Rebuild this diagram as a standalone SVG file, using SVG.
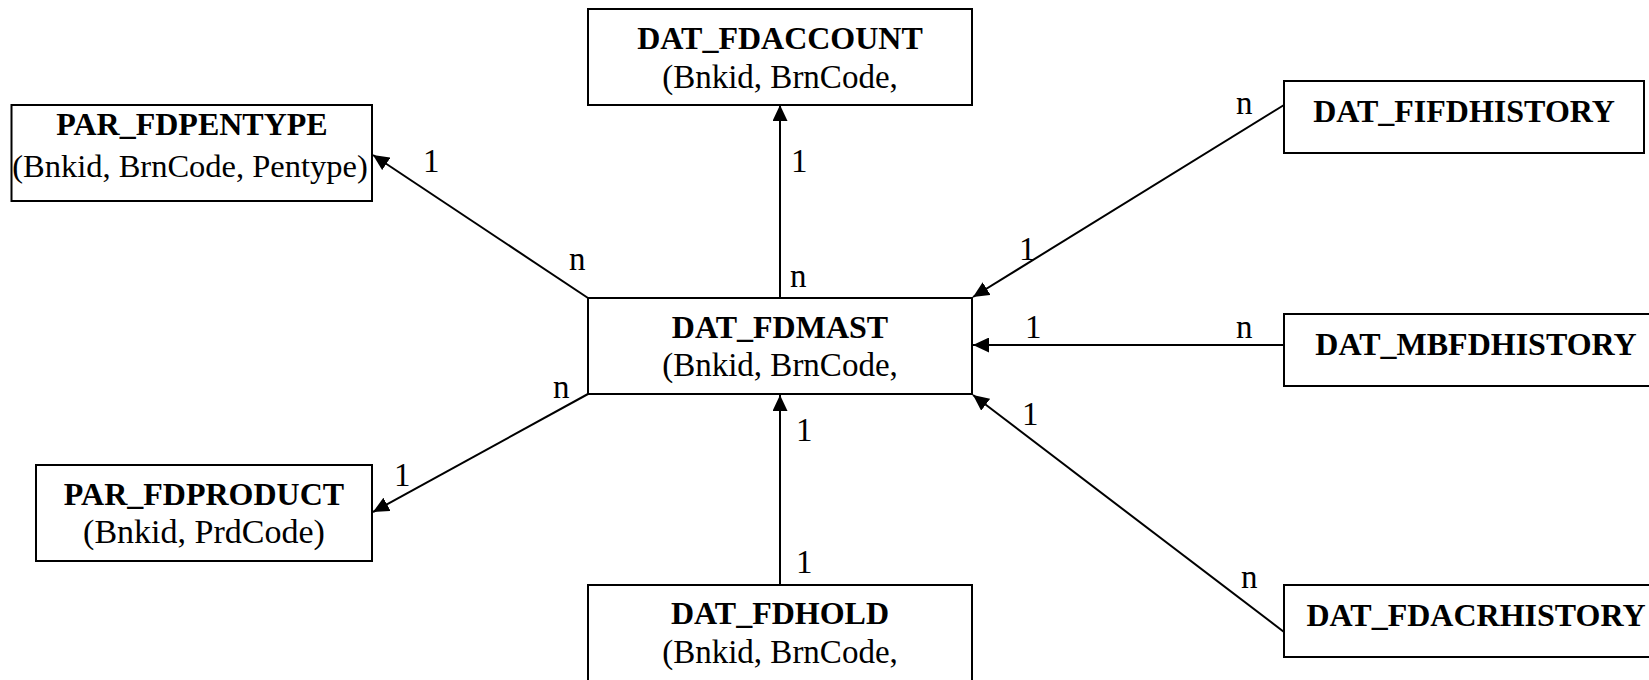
<svg xmlns="http://www.w3.org/2000/svg" width="1649" height="680" viewBox="0 0 1649 680">
<style>
.box{fill:#fff;stroke:#000;stroke-width:2}
.t{font-family:"Liberation Serif","Times New Roman",serif;fill:#000;text-anchor:middle}
.b{font-weight:bold;font-size:32px}
.r{font-size:33px}
.lbl{font-family:"Liberation Serif","Times New Roman",serif;font-size:33px;fill:#000}
.c{stroke:#000;stroke-width:2;fill:none;marker-end:url(#arr)}
</style>
<defs>
<marker id="arr" markerUnits="userSpaceOnUse" markerWidth="17" markerHeight="15" refX="16" refY="7.5" orient="auto">
<path d="M0,0 L16,7.5 L0,15 z" fill="#000"/>
</marker>
</defs>
<rect width="1649" height="680" fill="#fff"/>
<g id="connectors">
<line class="c" x1="588" y1="298" x2="373" y2="155"/>
<line class="c" x1="780" y1="298" x2="780" y2="105"/>
<line class="c" x1="1284" y1="105" x2="973" y2="297"/>
<line class="c" x1="1284" y1="345" x2="973" y2="345"/>
<line class="c" x1="588" y1="394" x2="373" y2="512"/>
<line class="c" x1="780" y1="585" x2="780" y2="395"/>
<line class="c" x1="1284" y1="632" x2="973" y2="395"/>
<text class="lbl" x="423" y="172">1</text>
<text class="lbl" x="569" y="270">n</text>
<text class="lbl" x="791" y="172">1</text>
<text class="lbl" x="790" y="287">n</text>
<text class="lbl" x="1236" y="114">n</text>
<text class="lbl" x="1019" y="260">1</text>
<text class="lbl" x="1025" y="338">1</text>
<text class="lbl" x="1236" y="338">n</text>
<text class="lbl" x="553" y="398">n</text>
<text class="lbl" x="394" y="486">1</text>
<text class="lbl" x="796" y="441">1</text>
<text class="lbl" x="796" y="573">1</text>
<text class="lbl" x="1022" y="425">1</text>
<text class="lbl" x="1241" y="588">n</text>
</g>
<g id="DAT_FDACCOUNT">
<rect class="box" x="588" y="9" width="384" height="96"/>
<text class="t b" x="780" y="49">DAT_FDACCOUNT</text>
<text class="t r" x="780" y="88">(Bnkid, BrnCode,</text>
</g>
<g id="PAR_FDPENTYPE">
<rect class="box" x="11.5" y="105" width="360.5" height="96"/>
<text class="t b" x="192" y="135">PAR_FDPENTYPE</text>
<text class="t r" x="190" y="177" style="font-size:32.5px">(Bnkid, BrnCode, Pentype)</text>
</g>
<g id="DAT_FIFDHISTORY">
<rect class="box" x="1284" y="81" width="360" height="72"/>
<text class="t b" x="1464" y="122">DAT_FIFDHISTORY</text>
</g>
<g id="DAT_FDMAST">
<rect class="box" x="588" y="298" width="384" height="96"/>
<text class="t b" x="780" y="338">DAT_FDMAST</text>
<text class="t r" x="780" y="376">(Bnkid, BrnCode,</text>
</g>
<g id="DAT_MBFDHISTORY">
<rect class="box" x="1284" y="314" width="384" height="72"/>
<text class="t b" x="1476" y="355">DAT_MBFDHISTORY</text>
</g>
<g id="PAR_FDPRODUCT">
<rect class="box" x="36" y="465" width="336" height="96"/>
<text class="t b" x="204" y="505">PAR_FDPRODUCT</text>
<text class="t r" x="204" y="543" style="font-size:34px">(Bnkid, PrdCode)</text>
</g>
<g id="DAT_FDHOLD">
<rect class="box" x="588" y="585" width="384" height="110"/>
<text class="t b" x="780" y="624">DAT_FDHOLD</text>
<text class="t r" x="780" y="663">(Bnkid, BrnCode,</text>
</g>
<g id="DAT_FDACRHISTORY">
<rect class="box" x="1284" y="585" width="384" height="72"/>
<text class="t b" x="1476" y="626">DAT_FDACRHISTORY</text>
</g>
</svg>
